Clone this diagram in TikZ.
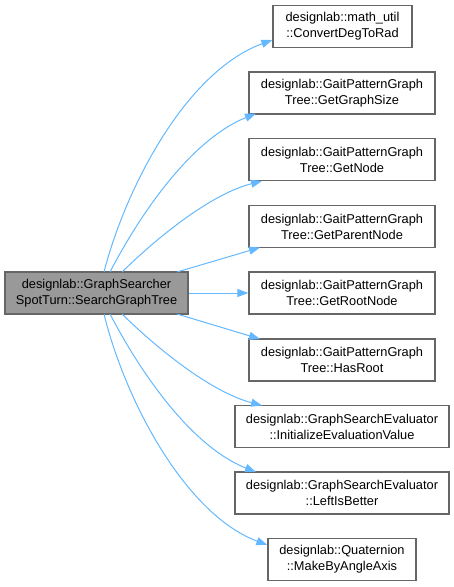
\documentclass[tikz,border=0pt]{standalone}
\usepackage{fontspec}
\setmainfont{Liberation Sans}
\usetikzlibrary{arrows.meta}
\definecolor{edgeblue}{HTML}{63B8FF}
\definecolor{boxgray}{HTML}{666666}
\definecolor{fillgray}{HTML}{999999}
\begin{document}
\begin{tikzpicture}[x=1pt,y=-1pt,
  box/.style={draw=boxgray, line width=1.3pt, fill=white, align=center, inner sep=0pt,
    minimum height=42pt, font=\fontsize{12.8}{16}\selectfont},
  edge/.style={draw=edgeblue, line width=1pt, -{Triangle[length=11pt,width=8pt]}}]
\useasboundingbox (0,0) rectangle (454,587);
\node[box, fill=fillgray, minimum width=183pt] (L) at (96.5,293) {designlab::GraphSearcher\\SpotTurn::SearchGraphTree};
\node[box, minimum width=139pt] (n1) at (342.5,26.5) {designlab::math\_util\\::ConvertDegToRad};
\node[box, minimum width=186pt] (n2) at (342,93) {designlab::GaitPatternGraph\\Tree::GetGraphSize};
\node[box, minimum width=186pt] (n3) at (342,159.5) {designlab::GaitPatternGraph\\Tree::GetNode};
\node[box, minimum width=186pt] (n4) at (342,226.5) {designlab::GaitPatternGraph\\Tree::GetParentNode};
\node[box, minimum width=186pt] (n5) at (342,293) {designlab::GaitPatternGraph\\Tree::GetRootNode};
\node[box, minimum width=186pt] (n6) at (342,360) {designlab::GaitPatternGraph\\Tree::HasRoot};
\node[box, minimum width=214pt] (n7) at (342,426.5) {designlab::GraphSearchEvaluator\\::InitializeEvaluationValue};
\node[box, minimum width=214pt] (n8) at (342,493) {designlab::GraphSearchEvaluator\\::LeftIsBetter};
\node[box, minimum width=148pt] (n9) at (342,559.5) {designlab::Quaternion\\::MakeByAngleAxis};

\coordinate (a1) at (104,272);
\coordinate (a2) at (110,272);
\coordinate (a3) at (122,272);
\coordinate (a4) at (177,272);
\coordinate (a6) at (177,314);
\coordinate (a7) at (122,314);
\coordinate (a8) at (110,314);
\coordinate (a9) at (104,314);

\draw[edge] (a1) .. controls (125,190) and (185,72) .. (n1.west |- 0,40);
\draw[edge] (a2) .. controls (145,205) and (195,138) .. (256,113.5);
\draw[edge] (a3) .. controls (165,230) and (215,193) .. (262,181);
\draw[edge] (a4) -- (260,247.5);
\draw[edge] (L.east) -- (n5.west);
\draw[edge] (a6) -- (260,339);
\draw[edge] (a7) .. controls (165,356) and (215,393) .. (262,405.5);
\draw[edge] (a8) .. controls (145,381) and (195,448) .. (256,472);
\draw[edge] (a9) .. controls (125,400) and (185,514) .. (n9.west |- 0,545);
\end{tikzpicture}
\end{document}
